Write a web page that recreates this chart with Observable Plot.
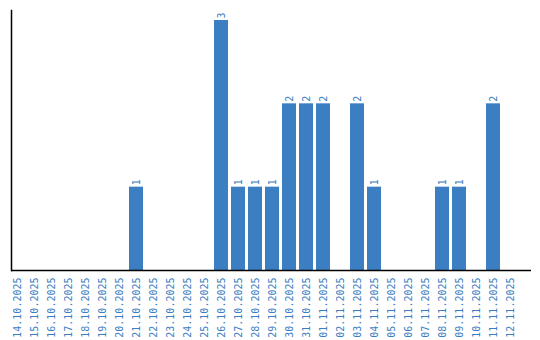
<!DOCTYPE html>
<html><head><meta charset="utf-8">
<script src="https://cdn.jsdelivr.net/npm/d3@7"></script>
<script src="https://cdn.jsdelivr.net/npm/@observablehq/plot@0.6"></script>
<style>body{margin:0;background:#fff}</style>
</head><body><div id="chart"></div>
<script>
const dates = ["14.10.2025","15.10.2025","16.10.2025","17.10.2025","18.10.2025","19.10.2025","20.10.2025","21.10.2025","22.10.2025","23.10.2025","24.10.2025","25.10.2025","26.10.2025","27.10.2025","28.10.2025","29.10.2025","30.10.2025","31.10.2025","01.11.2025","02.11.2025","03.11.2025","04.11.2025","05.11.2025","06.11.2025","07.11.2025","08.11.2025","09.11.2025","10.11.2025","11.11.2025","12.11.2025"];
const counts = [0,0,0,0,0,0,0,1,0,0,0,0,3,1,1,1,2,2,2,0,2,1,0,0,0,1,1,0,2,0];
const data = dates.map((d, i) => ({date: d, count: counts[i]}));
const nonzero = data.filter(d => d.count > 0);
const blue = "#3b7ec2";
const chart = Plot.plot({
  width: 540, height: 340,
  marginTop: 10, marginBottom: 70, marginLeft: 11, marginRight: 9,
  style: {fontFamily: "DejaVu Sans Mono", fontSize: "10px", background: "#fff"},
  x: {domain: dates, range: [8.5, 518.5], paddingInner: 0.176, paddingOuter: 0.088, round: false, label: null},
  y: {domain: [0, 3.12], axis: null},
  marks: [
    Plot.barY(data, {x: "date", y: "count", fill: blue}),
    Plot.text(nonzero, {x: "date", y: "count", text: d => String(d.count), rotate: -90, textAnchor: "start", dy: -2, fill: blue, fontSize: 10}),
    Plot.axisX({tickSize: 0, tickRotate: -90, tickPadding: 7, fill: blue, fontSize: 10, label: null}),
    Plot.ruleY([0], {stroke: "#000", strokeWidth: 1.5}),
    Plot.frame({anchor: "left", stroke: "#000", strokeWidth: 1.5})
  ]
});
document.getElementById("chart").appendChild(chart);
</script></body></html>
